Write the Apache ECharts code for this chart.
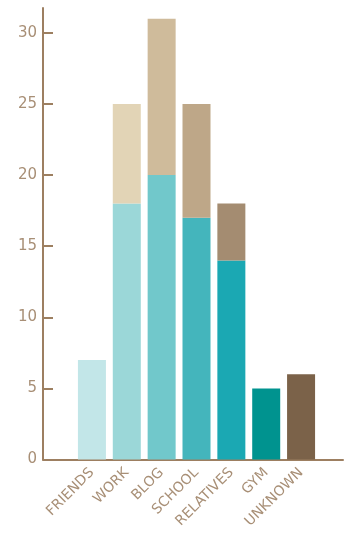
<!DOCTYPE html>
<html>
<head>
<meta charset="utf-8">
<style>
  html, body { margin: 0; padding: 0; background: #ffffff; }
  #chart { width: 350px; height: 540px; }
</style>
<script src="https://cdn.jsdelivr.net/npm/echarts@6/dist/echarts.min.js"></script>
</head>
<body>
<div id="chart"></div>
<script>
// Where contacts came from
const categories = ['FRIENDS', 'WORK', 'BLOG', 'SCHOOL', 'RELATIVES', 'GYM', 'UNKNOWN'];
const baseValues = [7, 18, 20, 17, 14, 5, 6];
const extraValues = [0, 7, 11, 8, 4, 0, 0];
const yTicks = [0, 5, 10, 15, 20, 25, 30];

// palette
const baseColors = ['#c2e6e8', '#9bd7d8', '#71c8cb', '#44b5bc', '#1ba8b3', '#00938f', '#7b6249'];
const extraColors = ['#e2d4b6', '#e2d4b6', '#cfbb9b', '#bea788', '#a48c71', '#a48c71', '#a48c71'];

const axisColor = '#9d7f61';
const labelColor = '#a88f76';
const font = 'DejaVu Sans';

const yMax = 31.75;
const gridTop = 8;
const gridBottom = 80.5;

const chart = echarts.init(document.getElementById('chart'), null, { renderer: 'canvas' });

chart.setOption({
  animation: false,
  backgroundColor: '#ffffff',
  grid: [
    { left: 43, right: 7, top: gridTop, bottom: gridBottom },
    { left: 74.5, right: 31.5, top: gridTop, bottom: gridBottom }
  ],
  xAxis: [
    {
      gridIndex: 0,
      type: 'value',
      min: 0,
      max: 1,
      axisLine: { show: true, lineStyle: { color: axisColor, width: 2 } },
      axisTick: { show: false },
      axisLabel: { show: false },
      splitLine: { show: false }
    },
    {
      gridIndex: 1,
      type: 'category',
      data: categories,
      axisLine: { show: false },
      axisTick: { show: false },
      axisLabel: {
        rotate: 45,
        interval: 0,
        margin: 11,
        color: labelColor,
        fontFamily: font,
        fontSize: 14
      }
    }
  ],
  yAxis: [
    {
      gridIndex: 0,
      type: 'value',
      min: 0,
      max: yMax,
      interval: 5,
      axisLine: { show: true, lineStyle: { color: axisColor, width: 2 } },
      axisTick: { show: true, inside: true, length: 10, lineStyle: { color: axisColor, width: 2 } },
      axisLabel: {
        margin: 6,
        color: labelColor,
        fontFamily: font,
        fontSize: 15,
        showMaxLabel: false,
        formatter: v => (yTicks.indexOf(v) >= 0 ? String(v) : '')
      },
      splitLine: { show: false }
    },
    {
      gridIndex: 1,
      type: 'value',
      min: 0,
      max: yMax,
      show: false,
      splitLine: { show: false }
    }
  ],
  series: [
    {
      type: 'bar',
      name: 'base',
      xAxisIndex: 1,
      yAxisIndex: 1,
      stack: 'total',
      barWidth: 28,
      data: baseValues.map((v, i) => ({ value: v, itemStyle: { color: baseColors[i] } }))
    },
    {
      type: 'bar',
      name: 'extra',
      xAxisIndex: 1,
      yAxisIndex: 1,
      stack: 'total',
      barWidth: 28,
      data: extraValues.map((v, i) => ({ value: v, itemStyle: { color: extraColors[i] } }))
    }
  ]
});
</script>
</body>
</html>
